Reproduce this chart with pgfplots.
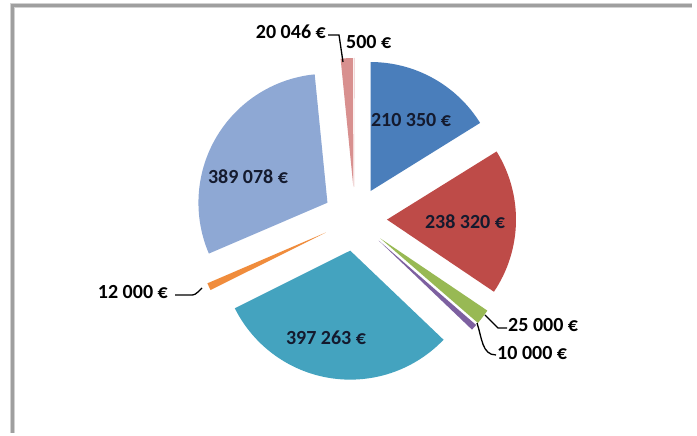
\documentclass[border=0pt]{standalone}
\usepackage{pgfplots}
\pgfplotsset{compat=1.18}
\usepackage{pgfplotstable}
\usepackage{fontspec}
\setmainfont{Carlito}

\definecolor{cA}{HTML}{4A7EBB}
\definecolor{cB}{HTML}{BE4B48}
\definecolor{cC}{HTML}{98B954}
\definecolor{cD}{HTML}{7D60A0}
\definecolor{cE}{HTML}{44A3BF}
\definecolor{cF}{HTML}{F08C3C}
\definecolor{cG}{HTML}{8EA8D4}
\definecolor{cH}{HTML}{D8908F}
\definecolor{cI}{HTML}{D8908F}
\definecolor{txt}{HTML}{141A2E}

\pgfplotstableread{
value col
210350 cA
238320 cB
25000 cC
10000 cD
397263 cE
12000 cF
389078 cG
20046 cH
500 cI
}\piedata

\def\cx{355}
\def\cy{214}
\def\dd{32}
\def\rr{129}

\begin{document}
\begin{tikzpicture}
\begin{axis}[hide axis, x=1pt, y=1pt, xmin=0, xmax=697, ymin=0, ymax=433,
  scale only axis, clip=false]
\pgfplotsextra{%
  \fill[white] (axis cs:0,0) rectangle (axis cs:697,433);
  \draw[gray!35, line width=5pt] (axis cs:12.5,0) -- (axis cs:12.5,427.5) -- (axis cs:692,427.5);
  \draw[gray!75, line width=2.2pt] (axis cs:12.5,0) -- (axis cs:12.5,427.5) -- (axis cs:692,427.5);
  \xdef\tot{0}%
  \foreach \i in {0,...,8}{%
    \pgfplotstablegetelem{\i}{value}\of\piedata
    \xdef\tot{\fpeval{\tot+\pgfplotsretval}}%
  }%
  \xdef\cum{0}%
  \foreach \i in {0,...,8}{%
    \pgfplotstablegetelem{\i}{value}\of\piedata
    \edef\val{\pgfplotsretval}%
    \pgfplotstablegetelem{\i}{col}\of\piedata
    \edef\col{\pgfplotsretval}%
    \edef\aS{\fpeval{90-360*\cum/\tot}}%
    \edef\aE{\fpeval{90-360*(\cum+\val)/\tot}}%
    \edef\aM{\fpeval{(\aS+\aE)/2}}%
    \edef\vx{\fpeval{\cx+\dd*cosd(\aM)}}%
    \edef\vy{\fpeval{\cy+\dd*sind(\aM)}}%
    \edef\px{\fpeval{\vx+\rr*cosd(\aS)}}%
    \edef\py{\fpeval{\vy+\rr*sind(\aS)}}%
    \fill[fill=\col] (axis cs:\vx,\vy) -- (axis cs:\px,\py)
       arc[start angle=\aS, end angle=\aE, radius=\rr pt] -- cycle;
    \xdef\cum{\fpeval{\cum+\val}}%
  }%
  \tikzset{lbl/.style={font=\fontsize{20}{20}\selectfont\bfseries, text=txt, inner sep=0pt}}
  \node[lbl] at (axis cs:411,313) {210 350 €};
  \node[lbl] at (axis cs:465,211) {238 320 €};
  \node[lbl] at (axis cs:248,256) {389 078 €};
  \node[lbl] at (axis cs:326,95) {397 263 €};
  \draw[black, line width=1.3pt] (axis cs:328,398) -- (axis cs:339,398) -- (axis cs:343,371);
  \node[lbl, anchor=east, text=black] at (axis cs:326,401) {20 046 €};
  \node[lbl, anchor=west, text=black] at (axis cs:346,391) {500 €};
  \draw[black, line width=1.3pt] (axis cs:485,118) -- (axis cs:498,105) -- (axis cs:507,105);
  \node[lbl, anchor=west, text=black] at (axis cs:508,108) {25 000 €};
  \draw[black, line width=1.3pt] (axis cs:477,110) .. controls (axis cs:482,95) and (axis cs:482,78) .. (axis cs:496,78);
  \node[lbl, anchor=west, text=black] at (axis cs:497,80) {10 000 €};
  \draw[black, line width=1.3pt] (axis cs:175,138) -- (axis cs:190,138) .. controls (axis cs:195,138) .. (axis cs:202,145);
  \node[lbl, anchor=east, text=black] at (axis cs:168,141) {12 000 €};
}
\end{axis}
\end{tikzpicture}
\end{document}
